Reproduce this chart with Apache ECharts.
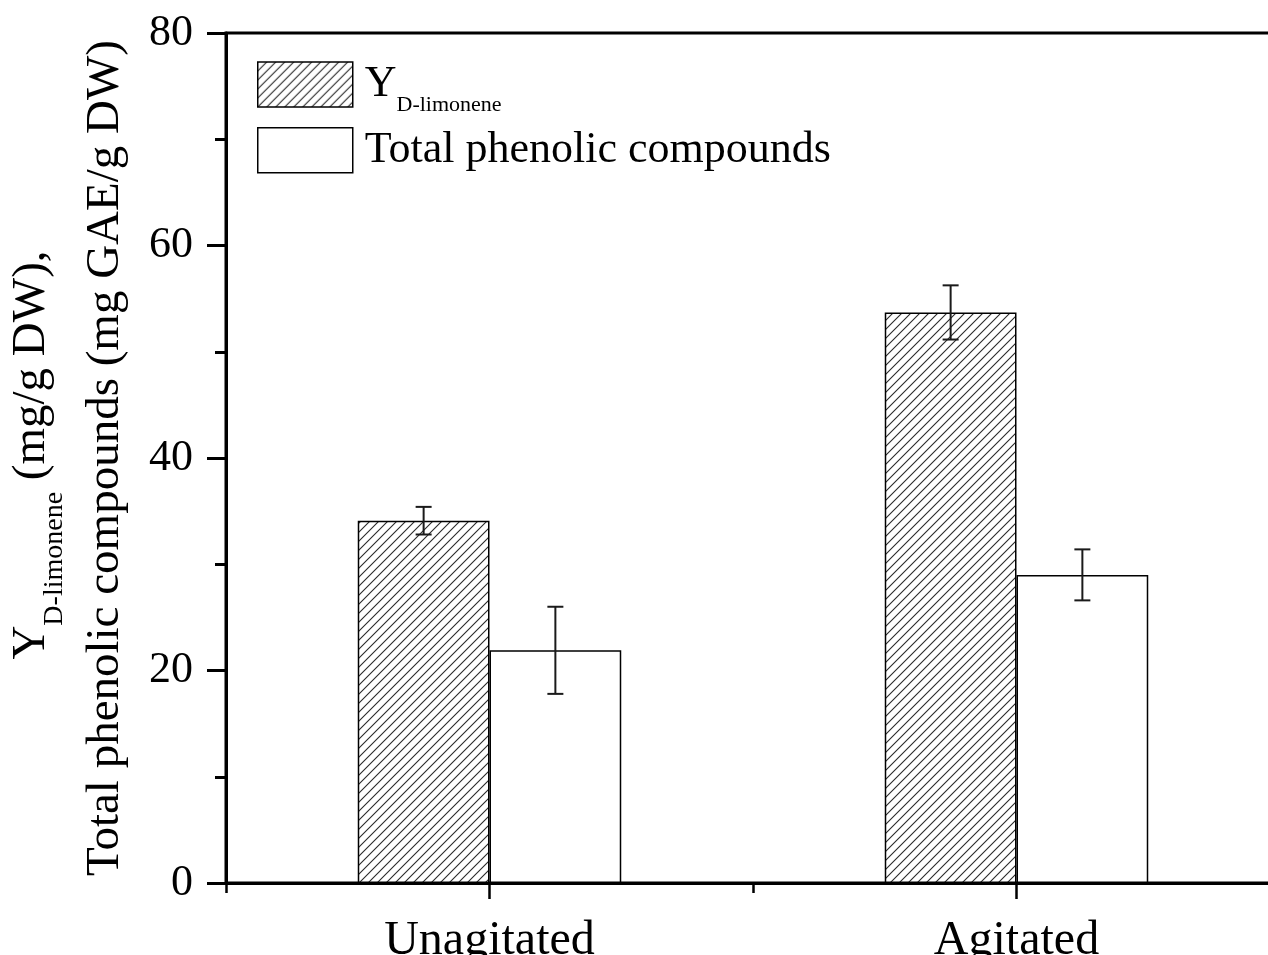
<!DOCTYPE html>
<html><head><meta charset="utf-8">
<script src="https://cdn.jsdelivr.net/npm/echarts@6/dist/echarts.min.js"></script>
<style>html,body{margin:0;padding:0;background:#fff}#c{width:1268px;height:955px}</style>
</head><body><div id="c"></div>
<script>
const categories = ['Unagitated', 'Agitated'];
const limoneneValues = [34.1, 53.7];
const limoneneErrors = [1.3, 2.55];
const phenolicValues = [21.9, 29.0];
const phenolicErrors = [4.1, 2.4];
const yMin = 0, yMax = 80, yInterval = 20;
const seriesNames = ['YD-limonene', 'Total phenolic compounds'];

const FONT = 'Liberation Serif';

// hatch pattern
const tile = document.createElement('canvas');
tile.width = 9; tile.height = 9;
const g = tile.getContext('2d');
g.fillStyle = '#fff'; g.fillRect(0, 0, 9, 9);
g.strokeStyle = '#2a2a2a'; g.lineWidth = 1.1;
g.beginPath();
g.moveTo(-1, 10); g.lineTo(10, -1);
g.moveTo(-2, 2); g.lineTo(2, -2);
g.moveTo(7, 11); g.lineTo(11, 7);
g.stroke();
const hatch = { image: tile, repeat: 'repeat' };

function errRenderer(side) {
  return function (params, api) {
    const i = api.value(0), v = api.value(1), e = api.value(2);
    const band = api.size([1, 0])[0];
    const cx = api.coord([i, 0])[0] + side * band / 8;
    const top = api.coord([i, v + e])[1], bot = api.coord([i, v - e])[1];
    const hw = 8;
    const st = { stroke: '#1a1a1a', lineWidth: 2 };
    return { type: 'group', children: [
      { type: 'line', shape: { x1: cx, y1: top, x2: cx, y2: bot }, style: st },
      { type: 'line', shape: { x1: cx - hw, y1: top, x2: cx + hw, y2: top }, style: st },
      { type: 'line', shape: { x1: cx - hw, y1: bot, x2: cx + hw, y2: bot }, style: st }
    ]};
  };
}

const chart = echarts.init(document.getElementById('c'), null, { renderer: 'canvas' });
const option = {
  animation: false,
  backgroundColor: '#fff',
  grid: { left: 226, top: 33, width: 1054, height: 850, show: true, borderColor: '#000', borderWidth: 3,
          backgroundColor: 'transparent', outerBoundsMode: 'none', containLabel: false },
  legend: {
    left: 257, top: 53, orient: 'vertical', padding: 0,
    itemWidth: 95, itemHeight: 45, itemGap: 11, icon: 'rect',
    selectedMode: false,
    data: seriesNames,
    itemStyle: { borderColor: '#000', borderWidth: 1.5 },
    formatter: function (name) {
      if (name === seriesNames[0]) return '{m|Y}{s|D-limonene}';
      return '{m|' + name + '}';
    },
    textStyle: {
      fontFamily: FONT, fontSize: 44, color: '#000', padding: [0, 0, 0, 7],
      rich: {
        m: { fontFamily: FONT, fontSize: 44, lineHeight: 44, color: '#000' },
        s: { fontFamily: FONT, fontSize: 22, lineHeight: 2, padding: [41, 0, 0, 0], color: '#000' }
      }
    }
  },
  xAxis: [{
    type: 'category', data: categories, gridIndex: 0,
    axisLine: { show: true, lineStyle: { color: '#000', width: 3 } },
    axisTick: { show: true, alignWithLabel: true, length: 16, lineStyle: { color: '#000', width: 2.5 } },
    axisLabel: { fontFamily: FONT, fontSize: 48, color: '#000', margin: 34 },
    splitLine: { show: false }
  }, {
    type: 'category', data: categories, gridIndex: 0, position: 'bottom',
    axisLine: { show: false },
    axisTick: { show: true, alignWithLabel: false, length: 10, lineStyle: { color: '#000', width: 2.5 } },
    axisLabel: { show: false },
    splitLine: { show: false }
  }],
  yAxis: {
    type: 'value', min: yMin, max: yMax, interval: yInterval,
    axisLine: { show: true, lineStyle: { color: '#000', width: 3 } },
    axisTick: { show: true, length: 19, lineStyle: { color: '#000', width: 3 } },
    minorTick: { show: true, splitNumber: 2, length: 11, lineStyle: { color: '#000', width: 3 } },
    axisLabel: { fontFamily: FONT, fontSize: 44, color: '#000', margin: 33 },
    splitLine: { show: false }, minorSplitLine: { show: false }
  },
  graphic: [
    {
      type: 'text', x: 32, y: 455, rotation: Math.PI / 2,
      style: {
        text: '{m|Y}{s|D-limonene}{m| (mg/g DW),}',
        textAlign: 'center', textVerticalAlign: 'middle',
        rich: {
          m: { fontFamily: FONT, fontSize: 47, lineHeight: 50, fill: '#000' },
          s: { fontFamily: FONT, fontSize: 28, lineHeight: 2, padding: [46, 0, 0, 0], fill: '#000' }
        }
      }
    },
    {
      type: 'text', x: 106, y: 458, rotation: Math.PI / 2,
      style: {
        text: 'Total phenolic compounds (mg GAE/g DW)',
        font: '47px "Liberation Serif"', fill: '#000',
        textAlign: 'center', textVerticalAlign: 'middle'
      }
    }
  ],
  series: [
    {
      name: seriesNames[0], type: 'bar', xAxisIndex: 0, barWidth: '25%', barGap: '0%',
      data: limoneneValues,
      itemStyle: { color: hatch, borderColor: '#000', borderWidth: 1.5 }
    },
    {
      name: seriesNames[1], type: 'bar', xAxisIndex: 0, barWidth: '25%', barGap: '0%',
      data: phenolicValues,
      itemStyle: { color: '#fff', borderColor: '#000', borderWidth: 1.5 }
    },
    {
      name: 'err1', type: 'custom', xAxisIndex: 0, z: 5,
      renderItem: errRenderer(-1), encode: { x: 0, y: 1 },
      data: categories.map((c, i) => [i, limoneneValues[i], limoneneErrors[i]])
    },
    {
      name: 'err2', type: 'custom', xAxisIndex: 0, z: 5,
      renderItem: errRenderer(1), encode: { x: 0, y: 1 },
      data: categories.map((c, i) => [i, phenolicValues[i], phenolicErrors[i]])
    }
  ]
};
chart.setOption(option);
</script>
</body></html>
